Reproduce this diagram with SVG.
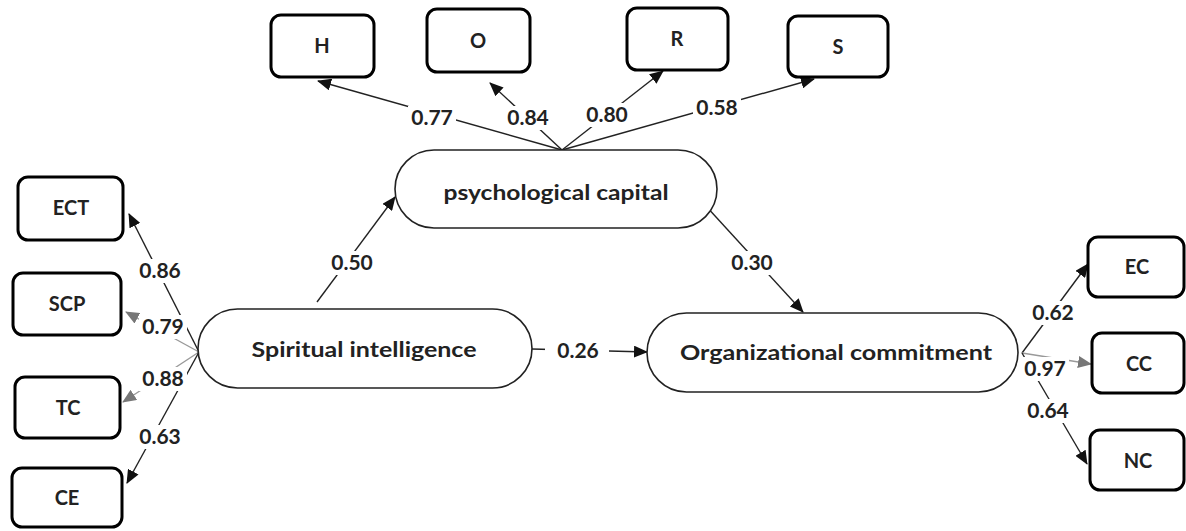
<svg xmlns="http://www.w3.org/2000/svg" width="1186" height="531" viewBox="0 0 1186 531">
<style>
  .box { fill: #fff; stroke: #000; stroke-width: 3; }
  .lat { fill: #fff; stroke: #222; stroke-width: 1.6; }
  .bt { font-family: Lato, "Open Sans", sans-serif; font-weight: 700; font-size: 20px; fill: #222; text-anchor: middle; }
  .nt { font-family: Lato, "Open Sans", sans-serif; font-weight: 700; font-size: 21px; fill: #222; text-anchor: middle; }
  .lb { font-family: Lato, "Open Sans", sans-serif; font-weight: 700; font-size: 21px; fill: #222; text-anchor: middle; }
  .bg { fill: #fff; }
  .ln { stroke: #222; stroke-width: 1.4; fill: none; marker-end: url(#ah); }
  .lg { stroke: #999; stroke-width: 1.4; fill: none; marker-end: url(#ahg); }
</style>
<defs>
  <marker id="ah" markerUnits="userSpaceOnUse" markerWidth="14" markerHeight="12" refX="13" refY="6" orient="auto">
    <path d="M0,0 L14,6 L0,12 z" fill="#111"/>
  </marker>
  <marker id="ahg" markerUnits="userSpaceOnUse" markerWidth="14" markerHeight="12" refX="13" refY="6" orient="auto">
    <path d="M0,0 L14,6 L0,12 z" fill="#777"/>
  </marker>
</defs>
<rect width="1186" height="531" fill="#fff"/>

<g id="connectors">
  <line class="ln" x1="562" y1="150" x2="318" y2="81"/>
  <line class="ln" x1="562" y1="150" x2="490" y2="83"/>
  <line class="ln" x1="562" y1="150" x2="663" y2="71"/>
  <line class="ln" x1="562" y1="150" x2="814" y2="79"/>
  <line class="ln" x1="199" y1="352" x2="129" y2="214"/>
  <line class="lg" x1="199" y1="352" x2="126" y2="312"/>
  <line class="lg" x1="199" y1="352" x2="123" y2="402"/>
  <line class="ln" x1="199" y1="352" x2="127" y2="483"/>
  <line class="ln" x1="1022" y1="353" x2="1088" y2="264"/>
  <line class="lg" x1="1022" y1="353" x2="1091" y2="364"/>
  <line class="ln" x1="1022" y1="353" x2="1087" y2="464"/>
  <line class="ln" x1="317" y1="302" x2="395" y2="197"/>
  <line class="ln" x1="705" y1="205" x2="803" y2="312"/>
  <line class="ln" x1="532" y1="349" x2="647" y2="352"/>

  <rect class="bg" x="408" y="106" width="48" height="24"/><text class="lb" x="432" y="125">0.77</text>
  <rect class="bg" x="504" y="106" width="48" height="24"/><text class="lb" x="528" y="125">0.84</text>
  <rect class="bg" x="583" y="103" width="48" height="24"/><text class="lb" x="607" y="122">0.80</text>
  <rect class="bg" x="693" y="96" width="48" height="24"/><text class="lb" x="717" y="115">0.58</text>
  <rect class="bg" x="136" y="259" width="48" height="24"/><text class="lb" x="160" y="278">0.86</text>
  <rect class="bg" x="139" y="315" width="48" height="24"/><text class="lb" x="163" y="334">0.79</text>
  <rect class="bg" x="139" y="367" width="48" height="24"/><text class="lb" x="163" y="386">0.88</text>
  <rect class="bg" x="136" y="425" width="48" height="24"/><text class="lb" x="160" y="444">0.63</text>
  <rect class="bg" x="1029" y="301" width="48" height="24"/><text class="lb" x="1053" y="320">0.62</text>
  <rect class="bg" x="1021" y="357" width="48" height="24"/><text class="lb" x="1045" y="376">0.97</text>
  <rect class="bg" x="1024" y="399" width="48" height="24"/><text class="lb" x="1048" y="418">0.64</text>
  <rect class="bg" x="328" y="251" width="48" height="24"/><text class="lb" x="352" y="270">0.50</text>
  <rect class="bg" x="728" y="251" width="48" height="24"/><text class="lb" x="752" y="270">0.30</text>
  <rect class="bg" x="545" y="339" width="64" height="24"/><text class="lb" x="578" y="358">0.26</text>
</g>

<g id="node-H"><rect class="box" x="271" y="15" width="103" height="62" rx="10"/><text class="bt" x="322" y="53">H</text></g>
<g id="node-O"><rect class="box" x="427" y="9" width="103" height="63" rx="10"/><text class="bt" x="478" y="48">O</text></g>
<g id="node-R"><rect class="box" x="627" y="8" width="101" height="62" rx="10"/><text class="bt" x="677" y="46">R</text></g>
<g id="node-S"><rect class="box" x="788" y="16" width="100" height="61" rx="10"/><text class="bt" x="838" y="54">S</text></g>

<g id="node-ECT"><rect class="box" x="18" y="177" width="105" height="63" rx="10"/><text class="bt" x="71" y="215">ECT</text></g>
<g id="node-SCP"><rect class="box" x="13" y="273" width="108" height="62" rx="10"/><text class="bt" x="67" y="311">SCP</text></g>
<g id="node-TC"><rect class="box" x="15" y="377" width="105" height="61" rx="10"/><text class="bt" x="68" y="415">TC</text></g>
<g id="node-CE"><rect class="box" x="12" y="468" width="110" height="59" rx="10"/><text class="bt" x="67" y="505">CE</text></g>

<g id="node-EC"><rect class="box" x="1088" y="237" width="96" height="60" rx="10"/><text class="bt" x="1137" y="274">EC</text></g>
<g id="node-CC"><rect class="box" x="1092" y="333" width="92" height="60" rx="10"/><text class="bt" x="1139" y="371">CC</text></g>
<g id="node-NC"><rect class="box" x="1090" y="430" width="94" height="60" rx="10"/><text class="bt" x="1138" y="468">NC</text></g>

<g id="node-psychological-capital"><rect class="lat" x="395" y="150" width="322" height="78" rx="39"/><text class="nt" x="556" y="200" textLength="225" lengthAdjust="spacingAndGlyphs">psychological capital</text></g>
<g id="node-spiritual-intelligence"><rect class="lat" x="198" y="309" width="334" height="79" rx="39.5"/><text class="nt" x="364" y="357" textLength="225" lengthAdjust="spacingAndGlyphs">Spiritual intelligence</text></g>
<g id="node-organizational-commitment"><rect class="lat" x="647" y="313" width="371" height="79" rx="39.5"/><text class="nt" x="836" y="360" textLength="312" lengthAdjust="spacingAndGlyphs">Organizational commitment</text></g>
</svg>
